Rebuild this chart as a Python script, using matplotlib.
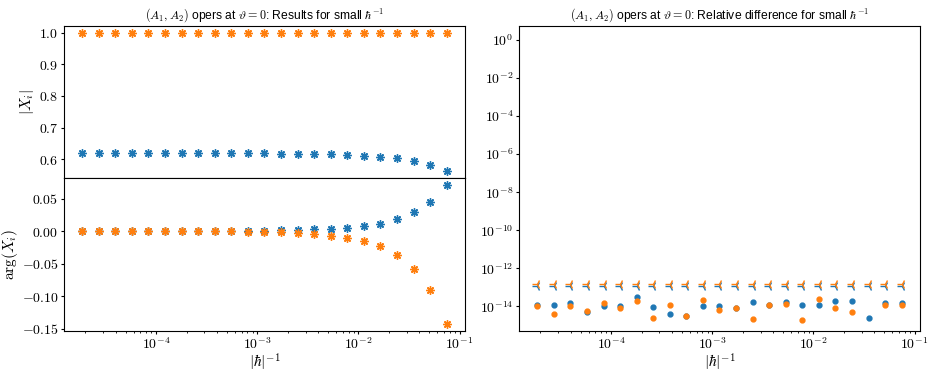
import matplotlib
matplotlib.use("Agg")
import matplotlib.pyplot as plt
import matplotlib.ticker as mticker
import numpy as np

plt.rcParams['font.family'] = ['Liberation Sans', 'DejaVu Sans']
plt.rcParams['mathtext.fontset'] = 'cm'
plt.rcParams['axes.unicode_minus'] = True

# inverse hbar values (x axis)
inv_hbar = [1.86e-5, 2.71e-5, 3.95e-5, 5.77e-5, 8.41e-5, 1.226e-4, 1.788e-4,
            2.607e-4, 3.80e-4, 5.54e-4, 8.08e-4, 1.178e-3, 1.718e-3, 2.505e-3,
            3.65e-3, 5.33e-3, 7.77e-3, 1.133e-2, 1.652e-2, 2.41e-2, 3.51e-2,
            5.12e-2, 7.47e-2]
x_ticks = [1e-4, 1e-3, 1e-2, 1e-1]

# |X_i|
abs_x1 = [0.618, 0.618, 0.618, 0.618, 0.618, 0.618, 0.618, 0.618, 0.618,
          0.618, 0.618, 0.618, 0.6175, 0.617, 0.616, 0.615, 0.613, 0.611,
          0.608, 0.602, 0.594, 0.580, 0.561]
abs_x2 = [1.0] * 23

# arg(X_i)
arg_x1 = [0.0, 0.0, 0.0, 0.0, 0.0, 0.0, 0.0, 0.0, 0.0, 0.0, 0.0005, 0.001,
          0.0014, 0.002, 0.003, 0.004, 0.0056, 0.0082, 0.0118, 0.019, 0.029,
          0.045, 0.0708]
arg_x2 = [0.0, 0.0, 0.0, 0.0, 0.0, 0.0, 0.0, 0.0, 0.0, 0.0, -0.0005, -0.0008,
          -0.0015, -0.003, -0.0046, -0.0067, -0.0097, -0.015, -0.023, -0.037,
          -0.058, -0.090, -0.142]

# relative differences
rel_x1 = [1.12e-14, 1.17e-14, 1.43e-14, 5.0e-15, 1.04e-14, 1.04e-14, 2.96e-14,
          9.6e-15, 4.1e-15, 3.1e-15, 1.08e-14, 1.08e-14, 8.5e-15, 1.68e-14,
          1.12e-14, 1.68e-14, 1.12e-14, 1.22e-14, 1.82e-14, 1.82e-14, 2.42e-15,
          1.49e-14, 1.49e-14]
rel_x2 = [1.0e-14, 4.1e-15, 1.0e-14, 5.9e-15, 1.55e-14, 7.8e-15, 1.98e-14,
          2.33e-15, 1.17e-14, 3.1e-15, 2.15e-14, 6.65e-15, 8.5e-15, 2.15e-15,
          1.12e-14, 1.32e-14, 1.83e-15, 2.52e-14, 7.8e-15, 4.8e-15, np.nan,
          1.12e-14, 1.12e-14]
tol_x1 = [1.2e-13] * 23
tol_x2 = [1.5e-13] * 23

fig = plt.figure(figsize=(9.38, 3.76), dpi=100)
ax_abs = fig.add_axes([0.0682, 0.5259, 0.4275, 0.4050])
ax_arg = fig.add_axes([0.0682, 0.1210, 0.4275, 0.4049], sharex=ax_abs)
ax_rel = fig.add_axes([0.5533, 0.1210, 0.4275, 0.8098])

star = (8, 2, 0)
ax_abs.semilogx(inv_hbar, abs_x1, ls='none', marker=star, ms=6, mew=1.0, color='C0')
ax_abs.semilogx(inv_hbar, abs_x2, ls='none', marker=star, ms=6, mew=1.0, color='C1')
ax_arg.semilogx(inv_hbar, arg_x1, ls='none', marker=star, ms=6, mew=1.0, color='C0')
ax_arg.semilogx(inv_hbar, arg_x2, ls='none', marker=star, ms=6, mew=1.0, color='C1')

ax_abs.set_title(r'$(A_1, A_2)$ opers at $\vartheta = 0$: Results for small $\hbar^{-1}$',
                 fontsize=8.7, pad=5)
ax_abs.set_ylabel(r'$|X_i|$', fontsize=11, labelpad=2)
ax_arg.set_ylabel(r'$\arg(X_i)$', fontsize=11, labelpad=1)
ax_arg.set_xlabel(r'$|\hbar|^{-1}$', fontsize=11, labelpad=0)
ax_abs.tick_params(axis='x', labelbottom=False)

ax_abs.yaxis.set_major_locator(mticker.MultipleLocator(0.1))
ax_abs.yaxis.set_major_formatter(mticker.FuncFormatter(lambda v, p: r'$%.1f$' % v))
ax_arg.yaxis.set_major_locator(mticker.MultipleLocator(0.05))
ax_arg.yaxis.set_major_formatter(mticker.FuncFormatter(
    lambda v, p: r'$%.2f$' % (0.0 if abs(v) < 1e-9 else v)))

ax_rel.loglog(inv_hbar, rel_x1, ls='none', marker='.', ms=7, color='C0')
ax_rel.loglog(inv_hbar, rel_x2, ls='none', marker='.', ms=7, color='C1')
ax_rel.loglog(inv_hbar, tol_x1, ls='none', marker='3', ms=7, color='C0')
ax_rel.loglog(inv_hbar, tol_x2, ls='none', marker='3', ms=7, color='C1')
ax_rel.set_ylim(5.4e-16, 5.4)
ax_rel.yaxis.set_major_locator(mticker.LogLocator(base=100.0))
ax_rel.yaxis.set_minor_locator(mticker.NullLocator())
ax_rel.set_title(r'$(A_1, A_2)$ opers at $\vartheta = 0$: Relative difference for small $\hbar^{-1}$',
                 fontsize=8.7, pad=5)
ax_rel.set_xlabel(r'$|\hbar|^{-1}$', fontsize=11, labelpad=0)

log_fmt = mticker.FuncFormatter(lambda v, p: r'$10^{%d}$' % int(round(np.log10(v))))
for ax in (ax_arg, ax_rel):
    ax.xaxis.set_major_locator(mticker.FixedLocator(x_ticks))
    ax.xaxis.set_major_formatter(log_fmt)
ax_rel.yaxis.set_major_formatter(log_fmt)
for ax in (ax_abs, ax_arg, ax_rel):
    ax.xaxis.set_minor_formatter(mticker.NullFormatter())
    ax.tick_params(which='major', labelsize=10, length=2.5, pad=1.5)
    ax.tick_params(which='minor', length=1.5)

fig.savefig('out.png', dpi=100)
